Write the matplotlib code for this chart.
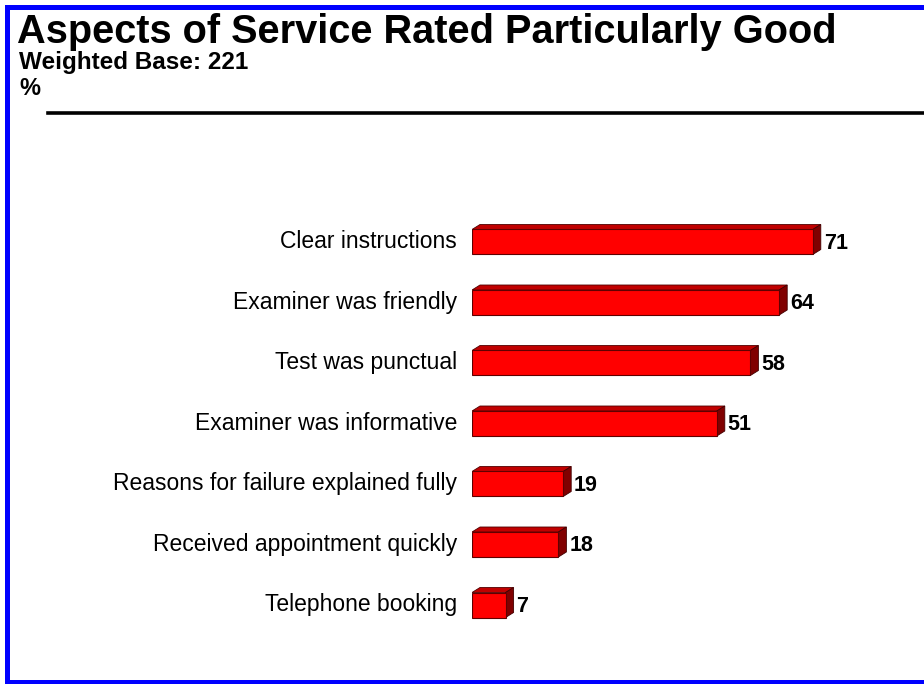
import matplotlib
matplotlib.use('Agg')
import matplotlib.pyplot as plt
from matplotlib.patches import Polygon, Rectangle
from matplotlib.lines import Line2D

# ── data ──
categories = ['Clear instructions', 'Examiner was friendly', 'Test was punctual',
              'Examiner was informative', 'Reasons for failure explained fully',
              'Received appointment quickly', 'Telephone booking']
values = [71, 64, 58, 51, 19, 18, 7]

# ── colours ──
FRONT = '#FF0000'
TOP   = '#C00000'
SIDE  = '#800000'
BLUE  = '#0000FF'

W, H, DPI = 924, 684, 100
plt.rcParams['font.family'] = ['Liberation Sans', 'DejaVu Sans']
fig = plt.figure(figsize=(W / DPI, H / DPI), dpi=DPI, facecolor='white')

def fx(px): return px / W
def fy(py): return 1 - py / H

def frame_band(x0, y0, x1, y1):
    # band given in pixel coords from the top-left
    fig.patches.append(Rectangle((fx(x0), fy(y1)), fx(x1) - fx(x0), fy(y0) - fy(y1),
                                 transform=fig.transFigure, color=BLUE, lw=0, zorder=0))

# blue frame: top, left, bottom
frame_band(5, 5, W, 10)
frame_band(5, 5, 10, 684)
frame_band(5, 680, W, 684)

# header
fig.text(fx(17), fy(43), 'Aspects of Service Rated Particularly Good', fontsize=28.6,
         fontweight='bold', ha='left', va='baseline')
fig.text(fx(19), fy(69), 'Weighted Base: 221', fontsize=17.5, fontweight='bold',
         ha='left', va='baseline')
fig.text(fx(19), fy(95), '%', fontsize=17, fontweight='bold', ha='left', va='baseline')
fig.add_artist(Line2D([fx(48), 1], [fy(113), fy(113)], color='black', lw=2.6,
                      transform=fig.transFigure))

# ── bars ──
ax_left, ax_top, ax_bot = 472, 150, 670
px_per_unit = 4.8
row_px, row0 = 60.5, 242
ax = fig.add_axes([fx(ax_left), fy(ax_bot), 1 - fx(ax_left), fy(ax_top) - fy(ax_bot)])
ax.set_xlim(0, (W - ax_left) / px_per_unit)
ax.set_ylim((ax_bot - row0) / row_px, (ax_top - row0) / row_px)
ax.axis('off')

bh = 25 / row_px
dx = 8 / px_per_unit
dy = 5 / row_px
y = list(range(len(values)))
ax.barh(y, values, height=bh, color=FRONT, edgecolor='#600000', linewidth=0.8, zorder=3)
for yi, v in zip(y, values):
    t = yi - bh / 2
    b = yi + bh / 2
    ax.add_patch(Polygon([(0, t), (v, t), (v + dx, t - dy), (dx, t - dy)], closed=True,
                         facecolor=TOP, edgecolor='#500000', linewidth=0.6, zorder=2))
    ax.add_patch(Polygon([(v, t), (v + dx, t - dy), (v + dx, b - dy), (v, b)], closed=True,
                         facecolor=SIDE, edgecolor='#400000', linewidth=0.6, zorder=2))
    ax.text(v + dx + 0.6, yi + 0.02, f'{v}', fontsize=15.5, fontweight='bold',
            ha='left', va='center')

for yi, c in zip(y, categories):
    ax.text(-15 / px_per_unit, yi, c, fontsize=16.5, ha='right', va='center',
            clip_on=False)

fig.savefig('out.png', dpi=DPI, facecolor='white')
